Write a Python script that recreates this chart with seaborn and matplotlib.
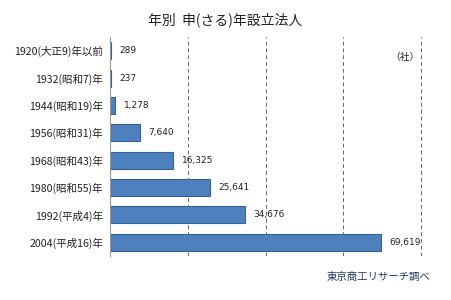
import numpy as np
import pandas as pd
import matplotlib
matplotlib.use("Agg")
import matplotlib.pyplot as plt
import seaborn as sns

years = ["1920(大正9)年以前", "1932(昭和7)年", "1944(昭和19)年", "1956(昭和31)年",
         "1968(昭和43)年", "1980(昭和55)年", "1992(平成4)年", "2004(平成16)年"]
counts = [289, 237, 1278, 7640, 16325, 25641, 34676, 69619]
grid_ticks = [20000, 40000, 60000, 80000]

df = pd.DataFrame({"year": years, "count": counts})

sns.set_style("white")
plt.rcParams["font.family"] = ["Noto Sans CJK JP", "DejaVu Sans"]

fig = plt.figure(figsize=(4.51, 3.0), dpi=100)
ax = fig.add_axes([110 / 451, 44 / 300, 313 / 451, 219 / 300])

sns.barplot(data=df, x="count", y="year", orient="h", color="#4D80BD",
            edgecolor="#36629B", linewidth=0.8, width=0.62, saturation=1, ax=ax)

ax.set_xlim(0, 80500)
ax.set_xticks(grid_ticks)
ax.set_xticklabels([])
ax.tick_params(axis="x", length=0)
ax.grid(axis="x", linestyle=(0, (4, 3)), color="#666666", linewidth=0.7)
ax.set_axisbelow(True)
ax.set_xlabel("")
ax.set_ylabel("")

for s in ["top", "right", "bottom"]:
    ax.spines[s].set_visible(False)
ax.spines["left"].set_color("#999999")
ax.spines["left"].set_linewidth(0.8)

ax.set_ylim(len(years) - 0.5, -0.5)
ax.set_yticks(range(len(years)))
ax.set_yticklabels(years, fontsize=7.6, color="#222222")
ax.tick_params(axis="y", length=0, pad=5)
ax.set_yticks(np.arange(-0.5, len(years), 1), minor=True)
ax.tick_params(axis="y", which="minor", length=3, color="#999999", width=0.8)

for i, v in enumerate(counts):
    ax.text(v + 2200, i, f"{v:,}", va="center", ha="left", fontsize=6.5,
            color="#222222", family=["DejaVu Sans"])

fig.text(0.5, 1 - 20 / 300, "年別  申(さる)年設立法人", ha="center", va="center",
         fontsize=10, color="#222222")
fig.text(405 / 451, 1 - 57 / 300, "（社）", ha="center", va="center",
         fontsize=7, color="#222222")
fig.text(430 / 451, 1 - 277 / 300, "東京商工リサーチ調べ", ha="right", va="center",
         fontsize=7.5, color="#1F3864")

fig.savefig("out.png", dpi=100)
